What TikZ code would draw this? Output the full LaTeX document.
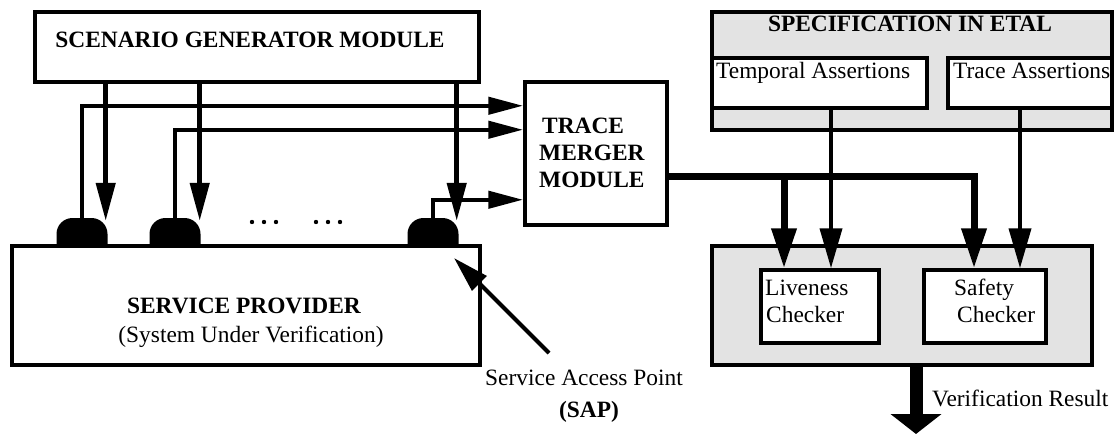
\documentclass[tikz,border=0pt]{standalone}
\usepackage{fontspec}
\setmainfont{Liberation Serif}
\usetikzlibrary{arrows.meta,calc}
\begin{document}
\begin{tikzpicture}[x=1pt,y=-1pt,
  box/.style={draw=black, line width=3.5pt, fill=white, inner sep=0pt},
  shaded/.style={draw=black, line width=3.5pt, fill=black!11, inner sep=0pt},
  sapblob/.style={fill=black, rounded corners=16pt, minimum width=51pt, minimum height=44pt, inner sep=0pt},
  lbl/.style={inner sep=0pt, font=\fontsize{23.4}{27}\selectfont},
  blbl/.style={inner sep=0pt, font=\fontsize{23.4}{27}\selectfont\bfseries},
  feed/.style={line width=4.5pt, -{Triangle[length=38pt,width=19pt]}},
  tracein/.style={line width=4.5pt, -{Triangle[length=35pt,width=17pt]}},
  merged/.style={line width=7pt, -{Triangle[length=40pt,width=24pt]}},
  assertin/.style={line width=4pt, -{Triangle[length=40pt,width=22pt]}},
  pointer/.style={line width=4pt, -{Triangle[length=36pt,width=20pt]}},
  result/.style={line width=13pt, -{Triangle[length=20pt,width=50pt]}}
]
\fill[white] (0,0) rectangle (1116,436);
\useasboundingbox (0,0) rectangle (1116,436);

% service access points (drawn first, the provider box hides their feet)
\node[sapblob] (sap1) at (82,240) {};
\node[sapblob] (sap2) at (175,240) {};
\node[sapblob] (sap3) at (433,240) {};

% main blocks
\node[box, minimum width=444pt, minimum height=70pt]  (sg)   at (257,47) {};
\node[box, minimum width=468pt, minimum height=119pt] (sp)   at (246,305.5) {};
\node[box, minimum width=142pt, minimum height=143pt] (tm)   at (596,153.5) {};

% specification block
\node[shaded, minimum width=400pt, minimum height=118pt] (spec) at (912,71) {};
\node[box, minimum width=215pt, minimum height=50pt] (temporal) at (819.5,83) {};
\node[box, minimum width=164pt, minimum height=50pt] (traceA)   at (1030,83) {};

% checkers
\node[shaded, minimum width=380pt, minimum height=119pt] (chk) at (902,305.5) {};
\node[box, minimum width=118pt, minimum height=73pt] (live) at (820,306.5) {};
\node[box, minimum width=122pt, minimum height=73pt] (safe) at (985,306.5) {};

% labels
\node[blbl, anchor=base] (sgT)  at (250,48)  {SCENARIO GENERATOR MODULE};
\node[blbl, anchor=base] (spT)  at (244,313) {SERVICE PROVIDER};
\node[lbl,  anchor=base] (spS)  at (251,342) {(System Under Verification)};
\node[blbl, anchor=base west] (tmT1) at (542,133) {TRACE};
\node[blbl, anchor=base west] (tmT2) at (539,160) {MERGER};
\node[blbl, anchor=base west] (tmT3) at (539,187) {MODULE};
\node[blbl, anchor=base] (specT) at (910,32) {SPECIFICATION IN ETAL};
\node[lbl, anchor=base west] (temporalT) at (716,78) {Temporal Assertions};
\node[lbl, anchor=base west] (traceT)    at (953,78) {Trace Assertions};
\node[lbl, anchor=base west] (liveT1) at (765,295) {Liveness};
\node[lbl, anchor=base west] (liveT2) at (766,322) {Checker};
\node[lbl, anchor=base west] (safeT1) at (954,295) {Safety};
\node[lbl, anchor=base west] (safeT2) at (957,322) {Checker};
\node[lbl,  anchor=base] (sapT1) at (584,385) {Service Access Point};
\node[blbl, anchor=base] (sapT2) at (589,417) {(SAP)};
\node[lbl, anchor=base west] (vresT) at (932,406) {Verification Result};

% ellipsis between the access points
\foreach \dx in {252,264,276,316,328,340}
  \fill (\dx,222) circle[radius=2.2pt];

% scenario generator feeding the access points
\coordinate (f1) at ($(sap1.north east)+(-2,3)$);
\coordinate (f2) at ($(sap2.north east)+(-1,3)$);
\coordinate (f3) at ($(sap3.north east)+(-2,3)$);
\draw[feed] (sg.south -| f1) -- (f1);
\draw[feed] (sg.south -| f2) -- (f2);
\draw[feed] (sg.south -| f3) -- (f3);

% traces observed at the access points
\draw[tracein] (sap1.north) |- ($(tm.north west)+(0,25.5)$);
\draw[tracein] (sap2.north) |- ($(tm.north west)+(0,49.5)$);
\draw[tracein] (sap3.north) |- ($(tm.north west)+(0,119.5)$);

% merged trace to both checkers
\coordinate (mOut)  at ($(tm.east)+(0,22.5)$);
\coordinate (liveA) at ($(live.north)+(-36,0)$);
\coordinate (safeA) at ($(safe.north)+(-11,0)$);
\draw[merged] (mOut) -| (liveA);
\draw[merged] (mOut) -| (safeA);

% assertions to the checkers
\coordinate (liveB) at ($(live.north)+(11,0)$);
\coordinate (safeB) at ($(safe.north)+(35,0)$);
\draw[assertin] (temporal.south -| liveB) -- (liveB);
\draw[assertin] (traceA.south -| safeB) -- (safeB);

% verification result
\coordinate (vres) at (916,434);
\draw[result] (chk.south -| vres) -- (vres);

% pointer to an access point
\coordinate (sapTail) at (549,353);
\coordinate (sapTip)  at (454,258);
\draw[pointer] (sapTail) -- (sapTip);
\end{tikzpicture}
\end{document}
